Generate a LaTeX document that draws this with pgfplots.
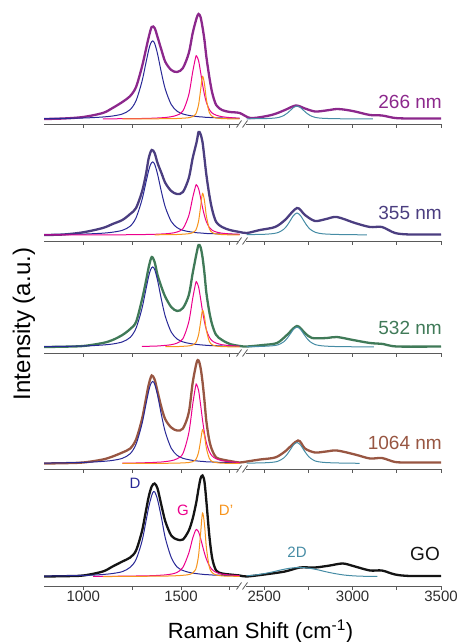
\documentclass[border=0pt]{standalone}
\usepackage{fontspec}
\setmainfont{Liberation Sans}
\usepackage{pgfplots}
\pgfplotsset{compat=1.18}

\definecolor{c266}{RGB}{140,40,140}
\definecolor{c355}{RGB}{75,62,128}
\definecolor{c532}{RGB}{64,122,88}
\definecolor{c1064}{RGB}{152,86,66}
\definecolor{cGO}{RGB}{20,20,20}
\definecolor{cD}{RGB}{40,40,150}
\definecolor{cG}{RGB}{236,0,140}
\definecolor{cDp}{RGB}{247,148,29}
\definecolor{c2D}{RGB}{70,140,165}
\definecolor{axgray}{RGB}{90,90,90}
\definecolor{ticktext}{RGB}{45,45,45}

% broken x axis: 800-1800 and 2400-3500 squeezed into one axis
\pgfplotsset{
  panel/.style={
    scale only axis, width=396.8pt, height=115pt,
    xmin=800, xmax=3500, clip=false,
    x coord trafo/.code={\pgfmathparse{0.1954*(min(##1,1800)-800)+7*min(max(##1-1800,0),600)/600+0.1767*max(##1-2400,0)}},
    axis x line*=bottom, hide y axis,
    axis line style={axgray, line width=0.8pt},
    xtick align=outside,
    xtick={1000,1500,2500,3000,3500},
    minor xtick={1250,1750,2750,3250},
    major tick length=4pt, minor tick length=4pt,
    tick style={axgray, line width=0.8pt},
    xticklabels={},
    /pgf/number format/assume math mode=true,
    xticklabel style={font=\fontsize{15}{15}\selectfont, text=ticktext, inner sep=1pt},
    every axis plot/.append style={smooth},
  },
  tot/.style={line width=2.3pt},
  comp/.style={line width=1pt},
}

\begin{document}
\begin{tikzpicture}
\useasboundingbox (0,0) rectangle (462pt,642pt);

% ---------- 266 nm ----------
\begin{axis}[panel, at={(44.2pt,518pt)}, anchor=south west, ymin=-5, ymax=110]
\addplot[tot, c266] coordinates {(800,0) (900,.5) (1000,2) (1100,6) (1150,11) (1200,17) (1240,23) (1270,32) (1300,52) (1320,69) (1335,82) (1350,92) (1365,91) (1380,82) (1400,69) (1420,57) (1450,49) (1480,47) (1510,51) (1540,66) (1560,86) (1580,101) (1590,105) (1600,102) (1610,92) (1620,79) (1630,62) (1645,42) (1660,26) (1680,14) (1710,9) (1750,7) (1800,6) (2420,1) (2500,2.5) (2560,5) (2617,9) (2679,13.5) (2730,10.5) (2787,7.5) (2850,8.5) (2911,10) (2960,9.2) (3013,7.5) (3098,4) (3166,3.5) (3240,1) (3325,.5) (3500,.5)};
\addplot[comp, cD] coordinates {(800,.4) (900,.6) (1000,1.0) (1050,1.4) (1100,2.0) (1150,3.0) (1200,5.0) (1240,9.4) (1270,18.3) (1300,37.3) (1320,55.6) (1335,69.2) (1345,75.7) (1355,78) (1365,75.7) (1380,65.1) (1400,46.1) (1420,29.6) (1450,14.5) (1480,7.8) (1510,5.0) (1540,3.6) (1560,3.0) (1575,2.6) (1580,2.5) (1590,2.3) (1600,2.1) (1610,2.0) (1620,1.8) (1630,1.6) (1645,1.5) (1660,1.4) (1680,1.2) (1710,1.0) (1750,.9) (1800,.6)};
\addplot[comp, cG] coordinates {(1100,.2) (1150,.2) (1200,.3) (1240,.4) (1270,.4) (1300,.5) (1320,.6) (1335,.7) (1345,.7) (1355,.8) (1365,.9) (1380,1.0) (1400,1.2) (1420,1.5) (1450,2.3) (1480,3.8) (1510,8.0) (1540,24.4) (1560,47.2) (1575,61.7) (1580,63) (1590,58.3) (1600,47.2) (1610,34.9) (1620,24.4) (1630,16.6) (1645,9.5) (1660,5.9) (1680,3.8) (1710,2.3) (1750,1.4) (1800,.8)};
\addplot[comp, cDp] coordinates {(1200,0) (1240,.1) (1270,.1) (1300,.1) (1320,.1) (1335,.2) (1345,.2) (1355,.2) (1365,.2) (1380,.2) (1400,.3) (1420,.3) (1450,.4) (1480,.5) (1510,.8) (1540,1.3) (1560,2.4) (1575,4.7) (1580,6.9) (1590,14.2) (1600,28.4) (1610,42.6) (1620,35.3) (1630,19.4) (1645,6.5) (1660,2.6) (1680,1.1) (1710,.4) (1750,.2) (1800,.1)};
\addplot[comp, c2D] coordinates {(2400,.2) (2450,.3) (2500,.4) (2550,.8) (2580,1.5) (2610,3.4) (2630,5.8) (2650,9.0) (2665,11.4) (2685,13) (2705,11.4) (2720,9.0) (2740,5.8) (2760,3.4) (2790,1.5) (2830,.7) (2880,.4) (2950,.2) (3050,.1) (3115,.1)};
\end{axis}

% ---------- 355 nm ----------
\begin{axis}[panel, at={(44.2pt,401pt)}, anchor=south west, ymin=-6, ymax=109]
\addplot[tot, c355] coordinates {(800,0) (900,.5) (1000,2.7) (1100,7) (1150,11) (1200,15) (1240,21) (1270,27) (1300,43) (1320,60) (1335,77) (1350,85) (1365,82) (1380,72) (1400,62) (1420,52) (1450,44) (1480,41) (1510,43) (1540,57) (1560,77) (1580,93) (1590,103) (1600,101) (1610,93) (1620,77) (1630,60) (1645,40) (1660,25) (1680,13) (1710,8) (1750,5) (1800,3) (2402,2) (2476,5) (2561,8) (2617,15) (2685,27) (2730,20) (2787,14) (2850,16) (2911,18) (3013,12) (3098,8) (3166,8) (3240,2) (3325,.5) (3500,.5)};
\addplot[comp, cD] coordinates {(800,.4) (900,.6) (1000,.9) (1050,1.3) (1100,1.8) (1150,2.8) (1200,4.7) (1240,8.8) (1270,17.2) (1300,34.9) (1320,52.0) (1335,64.8) (1345,70.8) (1355,73) (1365,70.8) (1380,60.9) (1400,43.1) (1420,27.7) (1450,13.6) (1480,7.3) (1510,4.7) (1540,3.4) (1560,2.8) (1575,2.4) (1580,2.3) (1590,2.1) (1600,2.0) (1610,1.8) (1620,1.7) (1630,1.5) (1645,1.4) (1660,1.3) (1680,1.2) (1710,.9) (1750,.8) (1800,.6)};
\addplot[comp, cG] coordinates {(800,.1) (900,.1) (1000,.1) (1050,.1) (1100,.1) (1150,.2) (1200,.2) (1240,.3) (1270,.3) (1300,.4) (1320,.5) (1335,.5) (1345,.6) (1355,.6) (1365,.7) (1380,.8) (1400,1.0) (1420,1.2) (1450,1.8) (1480,3.0) (1510,6.4) (1540,19.4) (1560,37.5) (1575,49.0) (1580,50) (1590,46.3) (1600,37.5) (1610,27.7) (1620,19.4) (1630,13.2) (1645,7.5) (1660,4.7) (1680,3.0) (1710,1.8) (1750,1.1) (1800,.7)};
\addplot[comp, cDp] coordinates {(1365,.2) (1380,.2) (1400,.3) (1420,.3) (1450,.4) (1480,.5) (1510,.8) (1540,1.3) (1560,2.3) (1575,4.6) (1580,6.7) (1590,13.9) (1600,27.7) (1610,41.6) (1620,34.4) (1630,18.9) (1645,6.3) (1660,2.5) (1680,1.1) (1710,.4) (1750,.2) (1800,.1)};
\addplot[comp, c2D] coordinates {(2400,.3) (2450,.5) (2500,.7) (2550,1.4) (2580,2.6) (2610,5.7) (2630,9.7) (2650,15.2) (2665,19.4) (2685,22) (2705,19.4) (2720,15.2) (2740,9.7) (2760,5.7) (2790,2.6) (2830,1.2) (2880,.7) (2950,.4) (3050,.2) (3080,.1)};
\end{axis}

% ---------- 532 nm ----------
\begin{axis}[panel, at={(44.2pt,289pt)}, anchor=south west, ymin=-6, ymax=109]
\addplot[tot, c532] coordinates {(800,0) (900,.3) (1000,1) (1100,4) (1150,7) (1200,12) (1240,18) (1270,25) (1300,47) (1320,65) (1335,80) (1350,90) (1365,85) (1380,72) (1400,60) (1420,50) (1450,40) (1480,36) (1510,39) (1540,52) (1560,74) (1580,94) (1590,102) (1600,100) (1610,90) (1620,74) (1630,54) (1645,35) (1660,22) (1680,12) (1710,7) (1750,3) (1800,1) (2402,.5) (2493,2) (2572,4) (2628,12) (2685,21) (2730,14) (2770,9) (2855,9) (2911,10) (3002,7) (3098,4) (3172,3) (3251,.5) (3500,.5)};
\addplot[comp, cD] coordinates {(800,.4) (900,.6) (1000,1.0) (1050,1.4) (1100,2.0) (1150,3.0) (1200,5.1) (1240,9.6) (1270,18.8) (1300,38.2) (1320,57.0) (1335,71.0) (1345,77.6) (1355,80) (1365,77.6) (1380,66.7) (1400,47.3) (1420,30.4) (1450,14.9) (1480,8.0) (1510,5.1) (1540,3.7) (1560,3.0) (1575,2.6) (1580,2.6) (1590,2.3) (1600,2.2) (1610,2.0) (1620,1.8) (1630,1.7) (1645,1.5) (1660,1.4) (1680,1.3) (1710,1.0) (1750,.9) (1800,.6)};
\addplot[comp, cG] coordinates {(1300,.5) (1320,.6) (1335,.7) (1345,.8) (1355,.8) (1365,.9) (1380,1.0) (1400,1.3) (1420,1.6) (1450,2.3) (1480,3.9) (1510,8.3) (1540,25.2) (1560,48.7) (1575,63.7) (1580,65) (1590,60.1) (1600,48.7) (1610,36.0) (1620,25.2) (1630,17.1) (1645,9.8) (1660,6.1) (1680,3.9) (1710,2.3) (1750,1.4) (1800,.8)};
\addplot[comp, cDp] coordinates {(1420,.3) (1450,.3) (1480,.4) (1510,.7) (1540,1.1) (1560,2.0) (1575,4.1) (1580,5.9) (1590,12.2) (1600,24.4) (1610,36.6) (1620,30.3) (1630,16.7) (1645,5.6) (1660,2.2) (1680,.9) (1710,.4) (1750,.2) (1800,.1)};
\addplot[comp, c2D] coordinates {(2400,.3) (2450,.4) (2500,.7) (2550,1.3) (2580,2.3) (2610,5.2) (2630,8.9) (2650,13.8) (2665,17.6) (2685,20) (2705,17.6) (2720,13.8) (2740,8.9) (2760,5.2) (2790,2.3) (2830,1.1) (2880,.6) (2950,.3) (3050,.2) (3120,.1)};
\end{axis}

% ---------- 1064 nm ----------
\begin{axis}[panel, at={(44.2pt,173pt)}, anchor=south west, ymin=-5.5, ymax=109.5]
\addplot[tot, c1064] coordinates {(800,0) (900,.3) (1000,1) (1100,4) (1150,7) (1200,11) (1240,15) (1270,24) (1300,44) (1320,64) (1335,79) (1350,88) (1365,84) (1380,72) (1400,56) (1420,44) (1450,36) (1480,33) (1510,35) (1540,51) (1560,81) (1580,101) (1590,103) (1600,96) (1610,82) (1620,63) (1630,42) (1645,23) (1660,13) (1680,6) (1710,4) (1750,2.5) (1800,1) (2402,2) (2476,4) (2561,6) (2617,12) (2691,23) (2730,15) (2787,11) (2850,12) (2911,13) (3013,9) (3098,5) (3166,5.5) (3240,1.5) (3325,1) (3500,1)};
\addplot[comp, cD] coordinates {(800,.4) (900,.7) (1000,1.1) (1050,1.5) (1100,2.1) (1150,3.1) (1200,5.2) (1240,9.8) (1270,19.3) (1300,39.2) (1320,58.5) (1335,72.7) (1345,79.5) (1355,82) (1365,79.5) (1380,68.4) (1400,48.5) (1420,31.2) (1450,15.3) (1480,8.2) (1510,5.2) (1540,3.8) (1560,3.1) (1575,2.7) (1580,2.6) (1590,2.4) (1600,2.2) (1610,2.1) (1620,1.9) (1630,1.7) (1645,1.6) (1660,1.5) (1680,1.3) (1710,1.1) (1750,.9) (1800,.7)};
\addplot[comp, cG] coordinates {(1200,.4) (1240,.4) (1270,.5) (1300,.6) (1320,.8) (1335,.8) (1345,.9) (1355,1.0) (1365,1.1) (1380,1.3) (1400,1.5) (1420,1.9) (1450,2.8) (1480,4.7) (1510,10.0) (1540,30.6) (1560,59.2) (1575,77.4) (1580,79) (1590,73.1) (1600,59.2) (1610,43.8) (1620,30.6) (1630,20.8) (1645,11.9) (1660,7.4) (1680,4.7) (1710,2.8) (1750,1.7) (1800,1.0)};
\addplot[comp, cDp] coordinates {(1200,0) (1240,.1) (1270,.1) (1300,.1) (1320,.1) (1335,.1) (1345,.1) (1355,.1) (1365,.2) (1380,.2) (1400,.2) (1420,.2) (1450,.3) (1480,.4) (1510,.6) (1540,1.0) (1560,1.9) (1575,3.7) (1580,5.4) (1590,11.2) (1600,22.4) (1610,33.7) (1620,27.9) (1630,15.3) (1645,5.1) (1660,2.0) (1680,.9) (1710,.3) (1750,.2) (1800,.1)};
\addplot[comp, c2D] coordinates {(2400,.3) (2450,.5) (2500,.7) (2550,1.3) (2580,2.4) (2610,5.5) (2630,9.3) (2650,14.5) (2665,18.5) (2685,21) (2705,18.5) (2720,14.5) (2740,9.3) (2760,5.5) (2790,2.4) (2830,1.2) (2880,.7) (2950,.4) (3040,.2)};
\end{axis}

% ---------- GO ----------
\begin{axis}[panel, at={(44.2pt,56pt)}, anchor=south west, ymin=-9.5, ymax=105.5,
  xticklabels={1000,1500,2500,3000,3500}]
\addplot[tot, cGO] coordinates {(800,0) (900,.3) (1000,1) (1100,5) (1150,10) (1200,15) (1240,19) (1270,26) (1300,45) (1320,65) (1335,80) (1350,90) (1365,93) (1380,88) (1400,71) (1420,55) (1450,41) (1480,37) (1510,37) (1540,46) (1560,58) (1575,71) (1580,76) (1590,88) (1600,98) (1610,101) (1620,95) (1630,75) (1645,41) (1660,18) (1680,6) (1710,3) (1750,2) (1800,1) (2400,0) (2500,2) (2617,5) (2702,9) (2787,9) (2872,11) (2945,13) (3013,10) (3098,6) (3166,6) (3240,2) (3325,.5) (3500,.5)};
\addplot[comp, cD] coordinates {(800,.4) (900,.7) (1000,1.1) (1050,1.4) (1100,2.0) (1150,3.0) (1200,4.9) (1240,9.2) (1270,17.0) (1300,34.9) (1320,54.4) (1335,69.7) (1345,77.4) (1355,83.7) (1365,84.7) (1380,76.9) (1400,58.7) (1420,38.3) (1450,19.1) (1480,9.5) (1510,6.0) (1540,4.2) (1560,3.4) (1575,3.0) (1580,2.9) (1590,2.6) (1600,2.4) (1610,2.2) (1620,2.0) (1630,1.9) (1645,1.7) (1660,1.5) (1680,1.4) (1710,1.2) (1750,.9) (1800,.7)};
\addplot[comp, cG] coordinates {(1050,.2) (1100,.2) (1150,.2) (1200,.3) (1240,.4) (1270,.5) (1300,.6) (1320,.7) (1335,.7) (1345,.8) (1355,.9) (1365,.9) (1380,1.1) (1400,1.3) (1420,1.6) (1450,2.4) (1480,4.1) (1510,9.2) (1540,23.5) (1560,38.4) (1575,46.4) (1580,47) (1590,44.6) (1600,38.4) (1610,30.8) (1620,23.5) (1630,17.4) (1645,10.8) (1660,6.8) (1680,4.1) (1710,2.4) (1750,1.5) (1800,.9)};
\addplot[comp, cDp] coordinates {(1100,0) (1150,0) (1200,.1) (1240,.1) (1270,.1) (1300,.2) (1320,.2) (1335,.3) (1345,.3) (1355,.3) (1365,.3) (1380,.3) (1400,.4) (1420,.4) (1450,.6) (1480,.8) (1510,1.2) (1540,1.9) (1560,3.5) (1575,7.0) (1580,10.2) (1590,21.1) (1600,42.2) (1610,63.4) (1620,52.5) (1630,28.8) (1645,9.6) (1660,3.8) (1680,1.6) (1710,.6) (1750,.3) (1800,.2)};
\addplot[comp, c2D] coordinates {(2400,.7) (2450,1.5) (2500,2.9) (2550,4.7) (2600,6.8) (2650,8.4) (2700,9) (2750,8.4) (2800,6.8) (2850,4.7) (2900,2.9) (2950,1.5) (3000,.7) (3050,.3) (3100,.1) (3140,0)};
\end{axis}

\begin{scope}[x=1pt, y=1pt]
  % axis breaks
  \foreach \b in {518,401,289,173,56} {
    \fill[white] (239,\b-1.6) rectangle (246,\b+1.6);
    \draw[axgray, line width=0.8pt] (236.5,\b-3.5) -- (241.5,\b+3.5);
    \draw[axgray, line width=0.8pt] (242.5,\b-3.5) -- (247.5,\b+3.5);
  }
  \node[anchor=east, text=c266, font=\fontsize{19}{19}\selectfont, inner sep=0pt] at (442,540.5) {266 nm};
  \node[anchor=east, text=c355, font=\fontsize{19}{19}\selectfont, inner sep=0pt] at (442,429.5) {355 nm};
  \node[anchor=east, text=c532, font=\fontsize{19}{19}\selectfont, inner sep=0pt] at (442,313.7) {532 nm};
  \node[anchor=east, text=c1064, font=\fontsize{19}{19}\selectfont, inner sep=0pt] at (442,199.4) {1064 nm};
  \node[anchor=east, text=cGO, font=\fontsize{19}{19}\selectfont, inner sep=0pt] at (440,88.5) {GO};
  \node[text=cD, font=\fontsize{15}{15}\selectfont, inner sep=0pt] at (135,158.5) {D};
  \node[text=cG, font=\fontsize{15}{15}\selectfont, inner sep=0pt] at (183,132) {G};
  \node[text=cDp, font=\fontsize{15}{15}\selectfont, inner sep=0pt] at (226,132) {D'};
  \node[text=c2D, font=\fontsize{15}{15}\selectfont, inner sep=0pt] at (297,90) {2D};
  \node[rotate=90, font=\fontsize{24}{24}\selectfont, inner sep=0pt] at (24,318) {Intensity (a.u.)};
  \node[anchor=base, font=\fontsize{22}{22}\selectfont, inner sep=0pt] at (260.5,4) {Raman Shift (cm\textsuperscript{-1})};
\end{scope}
\end{tikzpicture}
\end{document}
